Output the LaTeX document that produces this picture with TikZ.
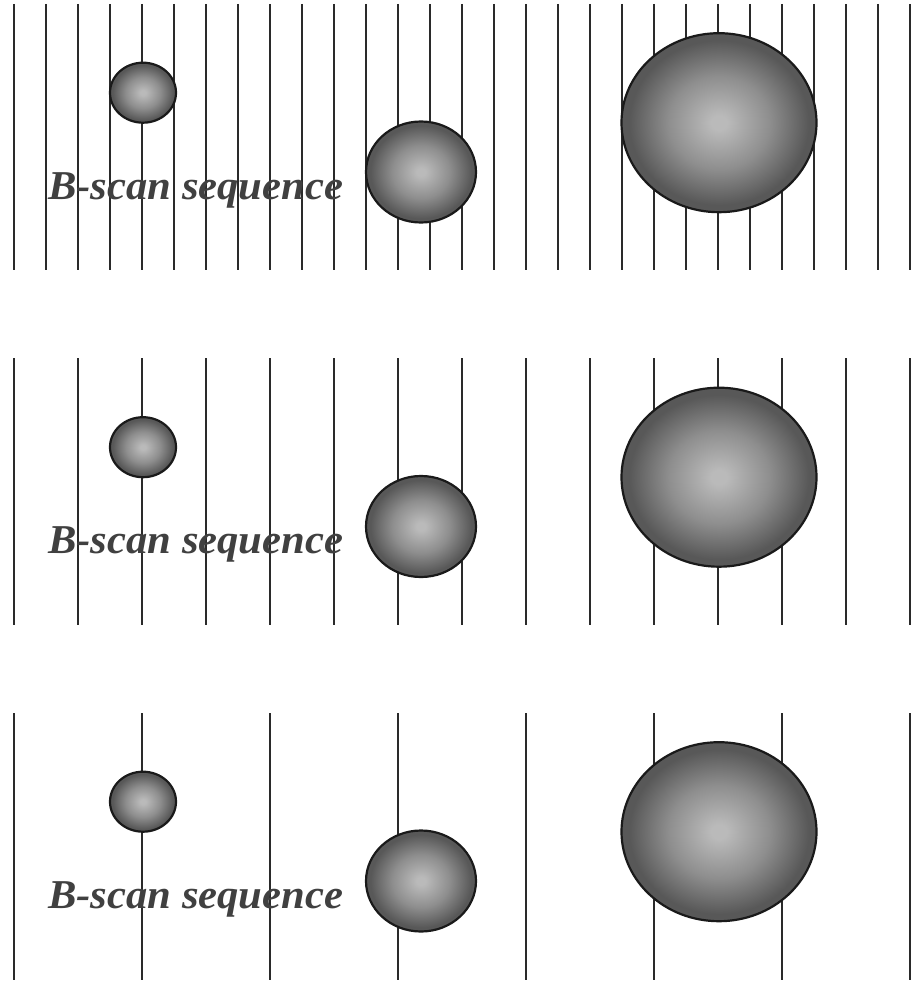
\documentclass[tikz,border=0pt]{standalone}
\usepackage{fontspec}
\setmainfont{Liberation Serif}
\usetikzlibrary{shapes.geometric}
\definecolor{linecol}{HTML}{2A2A2A}
\definecolor{ballin}{HTML}{BABABA}
\definecolor{ballmid}{HTML}{8E8E8E}
\definecolor{ballout}{HTML}{585858}
\definecolor{rimcol}{HTML}{1A1A1A}
\definecolor{textcol}{HTML}{404040}
\pgfdeclareradialshading{ballshade}{\pgfpoint{0bp}{0bp}}{%
  color(0bp)=(ballin); color(2bp)=(ballin); color(13bp)=(ballmid);
  color(23bp)=(ballout); color(25bp)=(ballout); color(50bp)=(ballout)}
\tikzset{
  scanline/.style={draw=linecol, line width=1.8pt},
  ball/.style={ellipse, draw=rimcol, line width=2.2pt, inner sep=0pt,
    shading=ballshade},
  label/.style={anchor=base west, inner sep=0pt, text=textcol,
    font=\fontsize{41}{41}\selectfont\bfseries\itshape}
}
\begin{document}
\begin{tikzpicture}[x=1pt,y=-1pt]
\useasboundingbox (0,0) rectangle (912,982);
% panel 1
\foreach \x in {14,46,...,910} \draw[scanline] (\x,4) -- (\x,270);
% panel 2
\foreach \x in {14,78,...,910} \draw[scanline] (\x,358) -- (\x,625);
% panel 3
\foreach \x in {14,142,...,910} \draw[scanline] (\x,713) -- (\x,980);

\foreach \dy/\n in {0/a,354.5/b,709/c}{
  \node[ball, minimum width=66pt, minimum height=60pt] (s\n) at (143,92.7+\dy) {};
  \node[ball, minimum width=110pt, minimum height=101pt] (m\n) at (421,172+\dy) {};
  \node[ball, minimum width=195pt, minimum height=179pt] (l\n) at (719,122.7+\dy) {};
  \node[label] (t\n) at (48,199+\dy) {\scalebox{1.04}[1]{B-scan sequence}};
}
\end{tikzpicture}
\end{document}
